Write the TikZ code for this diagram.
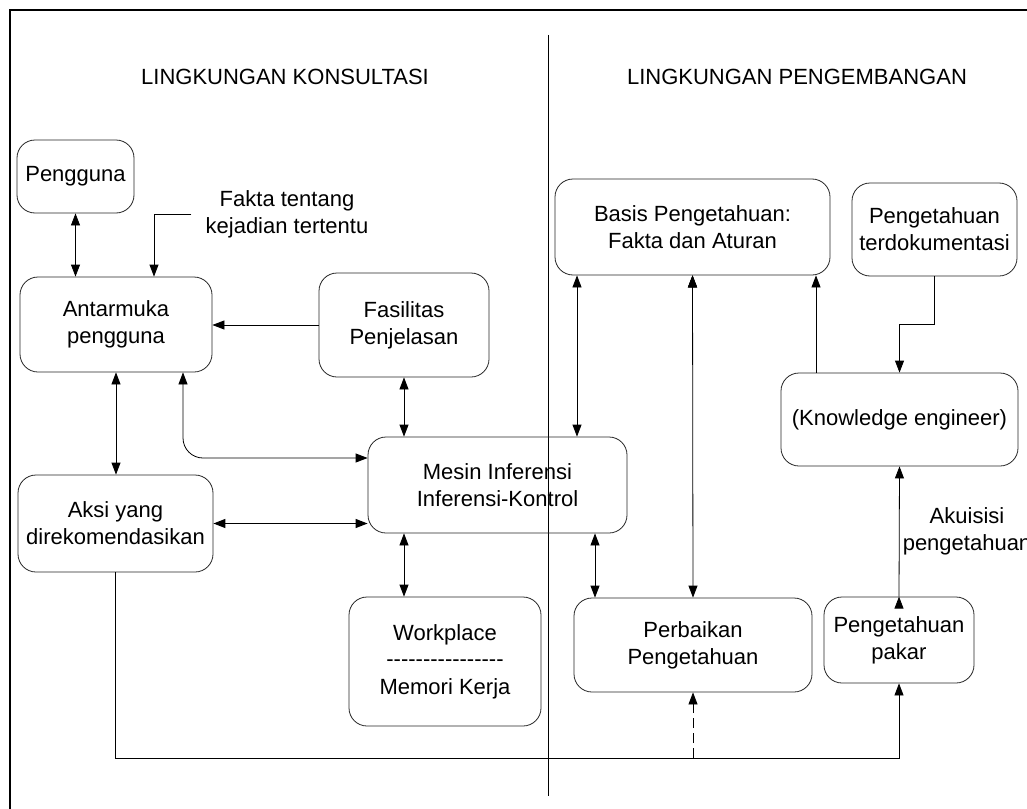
\documentclass[tikz,border=0pt]{standalone}
\usepackage{fontspec}
\setmainfont{Liberation Sans}
\usetikzlibrary{arrows.meta}
\newcommand\hy{\mbox{-}}

\begin{document}
\begin{tikzpicture}[x=1pt, y=-1pt, line width=0.8pt, font=\fontsize{22}{27}\selectfont,
    >={Triangle[length=12pt,width=9pt]},
    box/.style={rectangle, rounded corners=18pt, draw=black!85, align=center, inner sep=0pt}]
    \useasboundingbox (0,0) rectangle (1027,808);
    % frame and divider
    \draw [line width=2pt] (10,830) -- (10,10) -- (1050,10);
    \draw (548,35) -- (548,796);

    % Lingkungan Konsultasi
    \node(100) at (285,77) {LINGKUNGAN KONSULTASI};
    \node(101) at (75.5,176.5) [box, minimum width=117pt, minimum height=73pt] {Pengguna};
    \node(102) at (287,214) [align=center, inner xsep=14pt] {Fakta tentang\\kejadian tertentu};

    \node(111) at (116,324.5) [box, minimum width=192pt, minimum height=95pt] {Antarmuka\\pengguna};
    \node(112) at (404,325) [box, minimum width=170pt, minimum height=104pt] {Fasilitas\\Penjelasan};
    \draw [<->] (101.south) -- (101.south |- 111.north);
    \draw [->] (102.west) -| ([xshift=38pt]111.north);
    \draw [->] (112.west) -- (112.west -| 111.east);

    \node(121) at (115.5,523.5) [box, minimum width=195pt, minimum height=97pt] {Aksi yang\\direkomendasikan};
    \node(122) at (497.5,485) [box, minimum width=259pt, minimum height=96pt] {Mesin Inferensi\\Inferensi-Kontrol};
    \draw [<->] (111.south) -- (111.south |- 121.north);
    \draw [<->, rounded corners=20pt] ([xshift=67pt]111.south) |- ([yshift=27pt]122.west);
    \draw [<->] (112.south) -- (112.south |- 122.north);
    \draw [<->, line width=1.2pt] (121.east) -- (121.east -| 122.west);

    \node(131) at (445,661.5) [box, minimum width=192pt, minimum height=129pt] {Workplace\\[-1pt]\hy\hy\hy\hy\hy\hy\hy\hy\hy\hy\hy\hy\hy\hy\hy\hy\\[1pt]Memori Kerja};
    \draw [<->] (122.south -| 112.south) -- (131.north -| 112.south);

    % Lingkungan Pengembangan
    \node(200) at (797,77) {LINGKUNGAN PENGEMBANGAN};
    \node(201) at (692.5,227) [box, minimum width=275pt, minimum height=96pt] {Basis Pengetahuan:\\Fakta dan Aturan};
    \node(202) at (934.5,229.5) [box, minimum width=165pt, minimum height=93pt] {Pengetahuan\\terdokumentasi};

    \node(211) at (899.5,419.5) [box, minimum width=237pt, minimum height=93pt] {(Knowledge engineer)};
    \node(212) at (967,531) [align=center] {Akuisisi\\pengetahuan};
    \draw [->] (202.south) -- ++(0,48) -| (211.north);
    \draw [->] ([xshift=-83.5pt]211.north) -- ([xshift=-83.5pt]211.north |- 201.south);

    \node(221) at (693,645) [box, minimum width=238pt, minimum height=94pt] {Perbaikan\\Pengetahuan};
    \node(222) at (899,640) [box, minimum width=150pt, minimum height=86pt] {Pengetahuan\\pakar};
    \draw [<->] ([xshift=-115.5pt]201.south) -- ([xshift=-115.5pt]201.south |- 122.north);
    \draw [<->] (201.south) edge (221.north);
    \draw [<->] ([xshift=-98pt]221.north) -- ([xshift=-98pt]221.north |- 122.south);
    \draw [->] (222.north) edge (211.south);

    % umpan balik
    \coordinate(140) at (693,758);
    \draw [->] (121.south) -- ++(0,186) -| (222.south);
    \draw [->, dash pattern=on 10pt off 5pt] (140) -- (221.south);

\end{tikzpicture}
\end{document}
